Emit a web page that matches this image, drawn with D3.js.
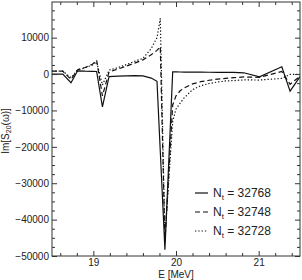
<!DOCTYPE html>
<html>
<head>
<meta charset="utf-8">
<title>Im S20</title>
<style>
  body { margin: 0; background: #fff; }
  text { font-family: "Liberation Sans", Arial, sans-serif; fill: #222; }
</style>
</head>
<body>
<script src="https://d3js.org/d3.v7.min.js"></script>
<script>

// energies [MeV] shared by the three series
var energy = [18.5, 18.63, 18.73, 18.81, 18.9, 18.99, 19.04, 19.11, 19.19, 19.3, 19.4, 19.5,
              19.6, 19.7, 19.77, 19.81, 19.866, 19.96, 20.0, 20.05, 20.1, 20.2, 20.3, 20.4,
              20.5, 20.6, 20.7, 20.82, 21.01, 21.28, 21.38, 21.5];

var nt32768 = [0, 0, -2400, 900, 800, 750, 700, -9000, -700, -550, -500, -450,
               -500, -1100, -2000, -21300, -48300, 600, 580, 560, 550, 530, 520, 500,
               480, 470, 450, 350, -750, 2000, -4700, -700];

var nt32748 = [800, 800, -1500, 1200, 1800, 2700, 3800, -6000, 600, 1400, 2200, 3000,
               3900, 5300, 6500, 7500, -46000, -8500, -6000, -4600, -3800, -2700, -2100, -1700,
               -1400, -1200, -1000, -800, -900, 700, -2800, -600];

var nt32728 = [800, 800, -1000, 1100, 1700, 2500, 3300, -3000, 1100, 1800, 2600, 3500,
               4300, 7000, 10000, 15300, -45000, -13000, -9600, -8000, -6500, -4300, -3200, -2600,
               -2200, -1900, -1800, -1600, -1650, -1200, -100, -100];

var seriesLabels = ["32768", "32748", "32728"];
var xTicks = [19, 20, 21];
var yTicks = [0, 10000, -10000, -20000, -30000, -40000, -50000];

var W = 302, H = 280;
var L = 52, R = 300, T = 2, B = 256;

var svg = d3.select("body").append("svg")
    .attr("width", W)
    .attr("height", H);

var x = d3.scaleLinear().domain([18.5, 21.5]).range([L, R]);
var y = d3.scaleLinear().domain([-50000, 19800]).range([B, T]);

svg.append("clipPath").attr("id", "clip")
  .append("rect").attr("x", L).attr("y", T).attr("width", R - L).attr("height", B - T);

var styles = [
  { dash: null },
  { dash: "5,3" },
  { dash: "1.3,2" }
];
var series = [nt32768, nt32748, nt32728];

var line = d3.line()
    .x(function(d, i){ return x(energy[i]); })
    .y(function(d){ return y(d); });

var plot = svg.append("g").attr("clip-path", "url(#clip)");
series.forEach(function(s, k){
  plot.append("path")
    .attr("d", line(s))
    .attr("fill", "none")
    .attr("stroke", "#111")
    .attr("stroke-width", 1.2)
    .attr("stroke-dasharray", styles[k].dash);
});

// axes, ticks inward on all four sides
var xMinor = d3.range(18.6, 21.45, 0.2).filter(function(v){ return Math.abs(v - Math.round(v)) > 0.01; });
var yMinor = d3.range(-47500, 19800, 2500).filter(function(v){ return v % 10000 !== 0; });

svg.append("g").attr("transform", "translate(0," + B + ")")
  .call(d3.axisBottom(x).tickValues(xTicks).tickSize(-5).tickPadding(3).tickFormat(d3.format("d")));
svg.append("g").attr("transform", "translate(0," + B + ")")
  .call(d3.axisBottom(x).tickValues(xMinor).tickSize(-3).tickFormat(""));
svg.append("g").attr("transform", "translate(0," + T + ")")
  .call(d3.axisTop(x).tickValues(xTicks).tickSize(-5).tickFormat(""));
svg.append("g").attr("transform", "translate(0," + T + ")")
  .call(d3.axisTop(x).tickValues(xMinor).tickSize(-3).tickFormat(""));

svg.append("g").attr("transform", "translate(" + L + ",0)")
  .call(d3.axisLeft(y).tickValues(yTicks).tickSize(-5).tickPadding(3).tickFormat(d3.format("d")));
svg.append("g").attr("transform", "translate(" + L + ",0)")
  .call(d3.axisLeft(y).tickValues(yMinor).tickSize(-3).tickFormat(""));
svg.append("g").attr("transform", "translate(" + R + ",0)")
  .call(d3.axisRight(y).tickValues(yTicks).tickSize(-5).tickFormat(""));
svg.append("g").attr("transform", "translate(" + R + ",0)")
  .call(d3.axisRight(y).tickValues(yMinor).tickSize(-3).tickFormat(""));

svg.selectAll(".domain").remove();
svg.selectAll(".tick line").attr("stroke", "#333");
svg.selectAll(".tick text").attr("font-size", 10).attr("fill", "#222")
  .attr("font-family", "Liberation Sans, Arial, sans-serif");

svg.append("rect")
  .attr("x", L).attr("y", T).attr("width", R - L).attr("height", B - T)
  .attr("fill", "none").attr("stroke", "#333").attr("stroke-width", 1);

// axis titles
svg.append("text")
  .attr("x", (L + R) / 2).attr("y", 278)
  .attr("text-anchor", "middle").attr("font-size", 10)
  .text("E [MeV]");

var yt = svg.append("text")
  .attr("transform", "translate(9," + ((T + B) / 2 + 2) + ") rotate(-90)")
  .attr("text-anchor", "middle").attr("font-size", 10);
yt.append("tspan").text("Im[S");
yt.append("tspan").attr("font-size", 7).attr("dy", 2).text("20");
yt.append("tspan").attr("dy", -2).text("(\u03c9)]");

// legend
var lg = svg.append("g");
seriesLabels.forEach(function(lab, k){
  var ly = 193 + k * 19;
  lg.append("line")
    .attr("x1", 195).attr("x2", 208).attr("y1", ly).attr("y2", ly)
    .attr("stroke", "#111").attr("stroke-width", 1.2)
    .attr("stroke-dasharray", styles[k].dash);
  var t = lg.append("text").attr("x", 213).attr("y", ly + 4).attr("font-size", 12);
  t.append("tspan").text("N");
  t.append("tspan").attr("font-size", 8).attr("dy", 3).text("t");
  t.append("tspan").attr("dy", -3).text(" = " + lab);
});

</script>
</body>
</html>
